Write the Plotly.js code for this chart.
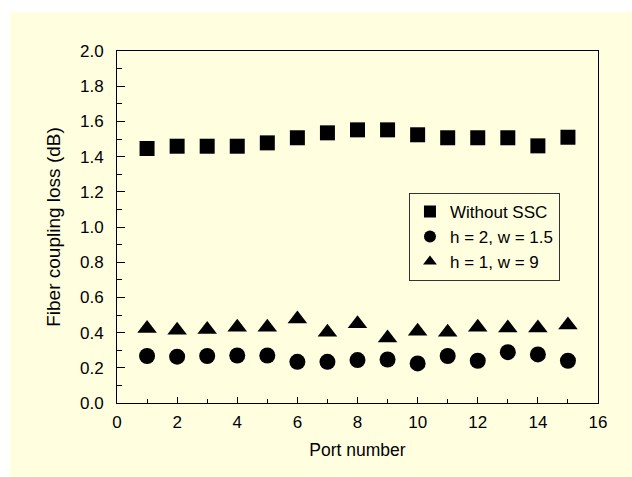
<!DOCTYPE html>
<html>
<head>
<meta charset="utf-8">
<script src="https://cdn.plot.ly/plotly-3.0.1.min.js"></script>
<style>
  html, body { margin: 0; padding: 0; background: #ffffff; }
  #chart { position: absolute; left: 10px; top: 12px; width: 622px; height: 465px; }
</style>
</head>
<body>
<div id="chart"></div>
<script>
const ports = [1, 2, 3, 4, 5, 6, 7, 8, 9, 10, 11, 12, 13, 14, 15];
const withoutSSC = [1.446, 1.459, 1.459, 1.459, 1.478, 1.507, 1.535, 1.552, 1.552, 1.524, 1.507, 1.507, 1.507, 1.461, 1.510];
const h2w15 = [0.267, 0.263, 0.267, 0.270, 0.270, 0.234, 0.234, 0.244, 0.247, 0.225, 0.267, 0.240, 0.289, 0.276, 0.240];
const h1w9 = [0.423, 0.414, 0.417, 0.431, 0.431, 0.477, 0.402, 0.450, 0.370, 0.407, 0.402, 0.431, 0.426, 0.426, 0.443];
const seriesNames = ["Without SSC", "h = 2, w = 1.5", "h = 1, w = 9"];

const FONT = "Arial, 'Liberation Sans', Helvetica, sans-serif";
const CREAM = "#ffffe0";

const traces = [
  { x: ports, y: withoutSSC, name: seriesNames[0], type: "scatter", mode: "markers",
    marker: { symbol: "square", size: 15, color: "#000000" } },
  { x: ports, y: h2w15, name: seriesNames[1], type: "scatter", mode: "markers",
    marker: { symbol: "circle", size: 16, color: "#000000" } },
  { x: ports, y: h1w9, name: seriesNames[2], type: "scatter", mode: "markers",
    marker: { symbol: "triangle-up", size: 17, color: "#000000" } }
];

const layout = {
  width: 622, height: 465,
  margin: { l: 107, r: 34, t: 39, b: 74 },
  paper_bgcolor: CREAM,
  plot_bgcolor: CREAM,
  font: { family: FONT, size: 17, color: "#000000" },
  showlegend: true,
  legend: {
    x: 0.607, y: 0.597, xanchor: "left", yanchor: "top",
    bgcolor: "rgba(0,0,0,0)", bordercolor: "#333333", borderwidth: 1,
    font: { family: FONT, size: 17, color: "#000000" },
    itemsizing: "constant", itemwidth: 30, tracegroupgap: 0
  },
  xaxis: {
    range: [0, 16], dtick: 2, tick0: 0,
    showgrid: false, zeroline: false,
    showline: true, linecolor: "#000000", linewidth: 1, mirror: true,
    ticks: "inside", ticklen: 6, tickcolor: "#000000", tickwidth: 1,
    minor: { dtick: 1, ticks: "inside", ticklen: 4, tickcolor: "#000000", tickwidth: 1, showgrid: false },
    tickfont: { family: FONT, size: 17, color: "#000000" },
    ticklabelstandoff: 4,
    title: { text: "Port number", font: { family: FONT, size: 17.5, color: "#000000" }, standoff: 12 }
  },
  yaxis: {
    range: [0, 2], dtick: 0.2, tick0: 0, tickformat: ".1f",
    showgrid: false, zeroline: false,
    showline: true, linecolor: "#000000", linewidth: 1, mirror: true,
    ticks: "inside", ticklen: 8, tickcolor: "#000000", tickwidth: 1,
    minor: { dtick: 0.1, ticks: "inside", ticklen: 5, tickcolor: "#000000", tickwidth: 1, showgrid: false },
    tickfont: { family: FONT, size: 17, color: "#000000" },
    ticklabelstandoff: 9,
    title: { text: "Fiber coupling loss (dB)", font: { family: FONT, size: 19, color: "#000000" }, standoff: 14 }
  }
};

Plotly.newPlot("chart", traces, layout, { displayModeBar: false, staticPlot: true });
</script>
</body>
</html>
